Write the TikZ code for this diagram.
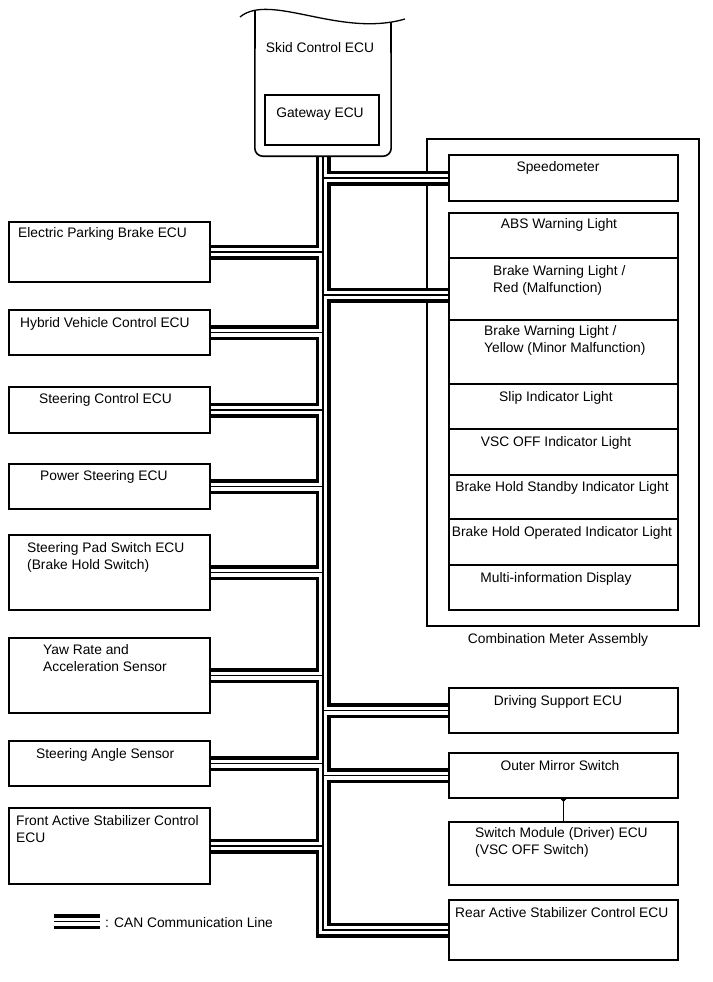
\documentclass[tikz,border=0pt]{standalone}
\usepackage{fontspec}
\setmainfont{Liberation Sans}
\usetikzlibrary{arrows.meta,backgrounds}

\begin{document}
\begin{tikzpicture}[x=1bp, y=-1bp,
	box/.style={draw=black, line width=1.6bp, minimum height=#1, inner sep=0pt},
	lbox/.style={box=#1, minimum width=201bp},
	rbox/.style={box=#1, minimum width=229bp},
	txt/.style={inner sep=0pt, align=left, font=\fontsize{13.8bp}{17.5bp}\selectfont}]
	\useasboundingbox (0, 0) rectangle (713, 982);

	\node[inner sep=0pt, minimum width=136bp, minimum height=148bp] (skid) at (323, 82) {};
	\node[box=50bp, minimum width=114bp] (gateway) at (322, 120) {};

	\node[lbox=60bp] (epb)   at (109.5, 252)   {};
	\node[lbox=45bp] (hv)    at (109.5, 332.5) {};
	\node[lbox=46bp] (steer) at (109.5, 410)   {};
	\node[lbox=45bp] (ps)    at (109.5, 486.5) {};
	\node[lbox=75bp] (pad)   at (109.5, 572.5) {};
	\node[lbox=75bp] (yaw)   at (109.5, 675.5) {};
	\node[lbox=45bp] (angle) at (109.5, 763.5) {};
	\node[lbox=76bp] (fas)   at (109.5, 846)   {};

	\node[rbox=46bp] (speedo) at (563.5, 178)   {};
	\node[rbox=45bp] (abs)    at (563.5, 235.5) {};
	\node[rbox=62bp] (bwred)  at (563.5, 289)   {};
	\node[rbox=64bp] (bwyel)  at (563.5, 352)   {};
	\node[rbox=45bp] (slip)   at (563.5, 406.5) {};
	\node[rbox=46bp] (vscoff) at (563.5, 452)   {};
	\node[rbox=44bp] (bhsb)   at (563.5, 497)   {};
	\node[rbox=46bp] (bhop)   at (563.5, 542)   {};
	\node[rbox=45bp] (mid)    at (563.5, 587.5) {};
	\node[rbox=45bp] (drive)  at (563.5, 710.5) {};
	\node[rbox=45bp] (mirror) at (563.5, 775.5) {};
	\node[rbox=63bp] (swmod)  at (563.5, 853.5) {};
	\node[rbox=60bp] (rear)   at (563.5, 930)   {};

	\coordinate (bwred in) at ([yshift=-6bp]bwred.west);
	\coordinate (legend start) at (54, 921.5);
	\coordinate (legend end) at (100, 921.5);

	\draw[line width=1.6bp, rounded corners=8bp] (255, 10) -- (skid.south west) -- (skid.south east) -- (391, 22);
	\draw[line width=1.3bp] (240, 17) .. controls (270, -8) and (340, 38) .. (405, 19);

	\node[txt, anchor=base] (skid text)    at (320, 52)  {Skid Control ECU};
	\node[txt, anchor=base] (gateway text) at (320, 117) {Gateway ECU};

	\node[txt, anchor=base west]  (epb text)   at (18, 237) {Electric Parking Brake ECU};
	\node[txt, anchor=base west]  (hv text)    at (20, 327) {Hybrid Vehicle Control ECU};
	\node[txt, anchor=base west]  (steer text) at (39, 403) {Steering Control ECU};
	\node[txt, anchor=base west]  (ps text)    at (40, 480) {Power Steering ECU};
	\node[txt, anchor=north west] (pad text)   at (27, 542) {Steering Pad Switch ECU\\(Brake Hold Switch)};
	\node[txt, anchor=north west] (yaw text)   at (43, 644) {Yaw Rate and\\Acceleration Sensor};
	\node[txt, anchor=base west]  (angle text) at (36, 758) {Steering Angle Sensor};
	\node[txt, anchor=north west] (fas text)   at (16, 815) {Front Active Stabilizer Control\\ECU};

	\node[txt, anchor=base]       (speedo text) at (558, 171) {Speedometer};
	\node[txt, anchor=base]       (abs text)    at (559, 228) {ABS Warning Light};
	\node[txt, anchor=north west] (bwred text)  at (493, 265) {Brake Warning Light /\\Red (Malfunction)};
	\node[txt, anchor=north west] (bwyel text)  at (484, 325) {Brake Warning Light /\\Yellow (Minor Malfunction)};
	\node[txt, anchor=base]       (slip text)   at (556, 401) {Slip Indicator Light};
	\node[txt, anchor=base]       (vscoff text) at (556, 446) {VSC OFF Indicator Light};
	\node[txt, anchor=base]       (bhsb text)   at (562, 491) {Brake Hold Standby Indicator Light};
	\node[txt, anchor=base]       (bhop text)   at (562, 536) {Brake Hold Operated Indicator Light};
	\node[txt, anchor=base]       (mid text)    at (556, 582) {Multi-information Display};
	\node[txt, anchor=base]       (meter text)  at (558, 643) {Combination Meter Assembly};
	\node[txt, anchor=base]       (drive text)  at (558, 705) {Driving Support ECU};
	\node[txt, anchor=base]       (mirror text) at (560, 770) {Outer Mirror Switch};
	\node[txt, anchor=north west] (swmod text)  at (475, 827) {Switch Module (Driver) ECU\\(VSC OFF Switch)};
	\node[txt, anchor=base west]  (rear text)   at (455, 917) {Rear Active Stabilizer Control ECU};
	\node[txt, anchor=base west]  (legend text) at (105, 927) {: CAN Communication Line};

	\draw[line width=1bp, -{Triangle[reversed, width=6bp, length=3bp]}] (swmod.north) -- (mirror.south);

	\begin{pgfonlayer}{background}
	\node[box=487bp, minimum width=272bp] (meter) at (563, 382.5) {};
	\foreach \lw/\col in {15bp/black, 8bp/white, 1.3bp/black} {
		\draw[line width=\lw, draw=\col, line join=miter] (skid.south) -- (skid.south |- rear.west) -- (rear.west);
		\foreach \ecu in {epb, hv, steer, ps, pad, yaw, angle, fas}
			\draw[line width=\lw, draw=\col] (skid.south |- \ecu.east) -- (\ecu.east);
		\foreach \ecu in {speedo, drive, mirror}
			\draw[line width=\lw, draw=\col] (skid.south |- \ecu.west) -- (\ecu.west);
		\draw[line width=\lw, draw=\col] (skid.south |- bwred in) -- (bwred in);
		\draw[line width=\lw, draw=\col] (legend start) -- (legend end);
	}
	\end{pgfonlayer}
\end{tikzpicture}
\end{document}
